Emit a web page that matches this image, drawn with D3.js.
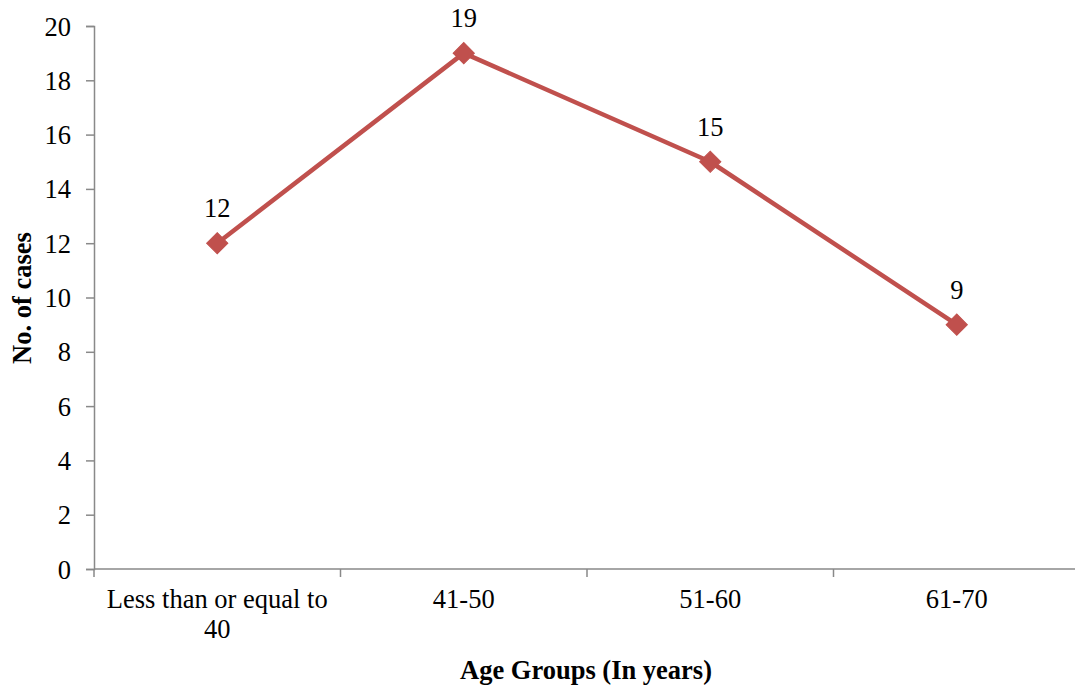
<!DOCTYPE html>
<html><head><meta charset="utf-8">
<script src="https://cdn.jsdelivr.net/npm/d3@7"></script>
<style>
html,body{margin:0;padding:0;background:#fff;overflow:hidden}
text{font-family:"Liberation Serif","Times New Roman",serif;fill:#000}
</style></head>
<body>
<svg id="c" width="1075" height="686"></svg>
<script>
const categories = [["Less than or equal to","40"],["41-50"],["51-60"],["61-70"]];
const values = [12, 19, 15, 9];
const yTicks = [0,2,4,6,8,10,12,14,16,18,20];
const xTitle = "Age Groups (In years)";
const yTitle = "No. of cases";

const svg = d3.select("#c");
const mLeft = 94, mRight = 1080, mTop = 26, mBottom = 569;
const fs = "26.5px";
const keys = categories.map((d,i)=>i);
const x = d3.scaleBand().domain(keys).range([mLeft,mRight]).paddingInner(0).paddingOuter(0);
const y = d3.scaleLinear().domain([0,20]).range([mBottom,mTop]);
const axisColor = "#898989";

// y axis
const ya = svg.append("g").attr("transform",`translate(${mLeft},0)`)
  .call(d3.axisLeft(y).tickValues(yTicks).tickSize(8).tickPadding(15).tickFormat(d3.format("d")));
ya.attr("font-family",null);
ya.select(".domain").attr("stroke",axisColor).attr("stroke-width",1.5);
ya.selectAll(".tick line").attr("stroke",axisColor).attr("stroke-width",1.5);
ya.selectAll(".tick text").style("font-size",fs).attr("dy","0.34em").attr("fill","#000");

// x axis
const xa = svg.append("g").attr("transform",`translate(0,${mBottom})`);
xa.append("line").attr("x1",mLeft).attr("x2",mRight).attr("y1",0).attr("y2",0)
  .attr("stroke",axisColor).attr("stroke-width",1.5);
const bounds = keys.map(k=>x(k)).concat([x(keys[keys.length-1])+x.bandwidth()]);
xa.selectAll("line.t").data(bounds).join("line").attr("class","t")
  .attr("x1",d=>d).attr("x2",d=>d).attr("y1",0).attr("y2",8)
  .attr("stroke",axisColor).attr("stroke-width",1.5);
const xl = xa.selectAll("text.xl").data(categories).join("text").attr("class","xl")
  .attr("text-anchor","middle").style("font-size",fs)
  .attr("transform",(d,i)=>`translate(${x(i)+x.bandwidth()/2},39)`);
xl.selectAll("tspan").data(d=>d).join("tspan")
  .attr("x",0).attr("y",(d,i)=>i*30).text(d=>d);

// line
const line = d3.line().x((d,i)=>x(i)+x.bandwidth()/2).y(d=>y(d));
svg.append("path").datum(values).attr("d",line)
  .attr("fill","none").attr("stroke","#C0504D").attr("stroke-width",4.5).attr("stroke-linejoin","round");

// markers
svg.selectAll("rect.m").data(values).join("rect").attr("class","m")
  .attr("x",-7.5).attr("y",-7.5).attr("width",15).attr("height",15)
  .attr("fill","#C0504D").attr("stroke","#C0504D").attr("stroke-width",1)
  .attr("transform",(d,i)=>`translate(${x(i)+x.bandwidth()/2},${y(d)}) rotate(45)`);

// data labels
svg.selectAll("text.dl").data(values).join("text").attr("class","dl")
  .attr("x",(d,i)=>x(i)+x.bandwidth()/2).attr("y",d=>y(d)-26)
  .attr("text-anchor","middle").style("font-size",fs).text(d=>d);

// titles
svg.append("text").attr("x",586).attr("y",679).attr("text-anchor","middle")
  .style("font-size",fs).style("font-weight","bold").text(xTitle);
svg.append("text").attr("transform",`translate(31,298) rotate(-90)`).attr("text-anchor","middle")
  .style("font-size",fs).style("font-weight","bold").text(yTitle);
</script>
</body></html>
